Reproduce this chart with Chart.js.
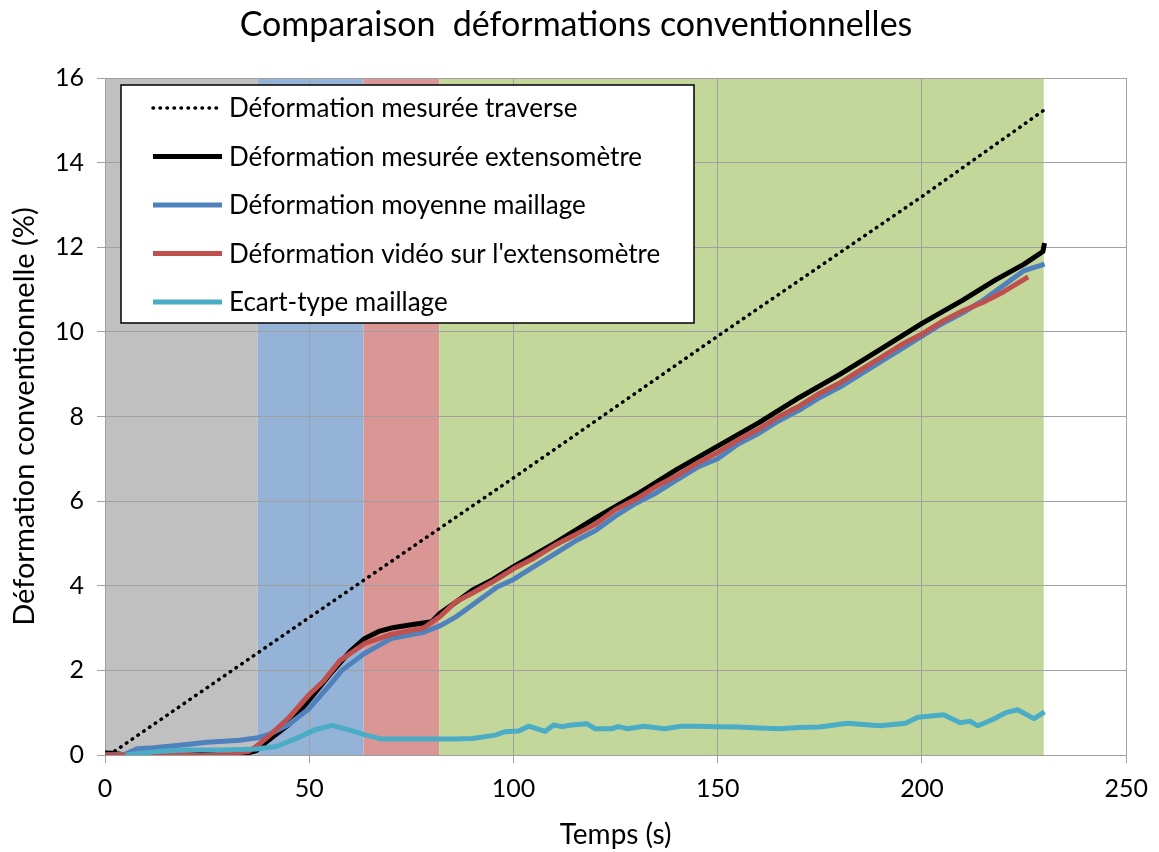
<!DOCTYPE html>
<html>
<head>
<meta charset="utf-8">
<script src="https://cdn.jsdelivr.net/npm/chart.js@4"></script>
<style>
  html, body { margin: 0; padding: 0; background: #fff; }
  #wrap { width: 1159px; height: 852px; position: relative; }
</style>
</head>
<body>
<div id="wrap"><canvas id="chart"></canvas></div>
<script>
// Comparaison des déformations conventionnelles

var titleText = 'Comparaison  déformations conventionnelles';

// zones de fond (temps en s)
var bandEdges = [0, 37.4, 63.3, 81.8, 229.8];
var bandColors = ['#c0c0c0', '#95b3d7', '#da9694', '#c4d79b'];

// Déformation mesurée traverse
var tTraverse = [1, 50, 100, 150, 200, 230];
var vTraverse = [0, 3.25, 6.55, 9.9, 13.2, 15.25];

// Déformation mesurée extensomètre
var tExtenso = [0, 2, 5, 15, 25, 35, 37, 40, 45, 50, 55, 60, 63.5, 67, 70, 75, 80, 82, 86, 90, 95, 100,
                110, 120, 130, 140, 150, 160, 170, 180, 190, 200, 210, 218, 225, 229.6, 230];
var vExtenso = [0.05, 0.04, 0, 0, 0.02, 0.05, 0.1, 0.35, 0.72, 1.3, 1.9, 2.45, 2.75, 2.92, 3.0, 3.08, 3.15, 3.35, 3.62, 3.9, 4.15, 4.45,
                5.0, 5.6, 6.15, 6.75, 7.3, 7.85, 8.45, 9.0, 9.6, 10.2, 10.75, 11.23, 11.6, 11.9, 12.1];

// Déformation moyenne maillage
var tMaillage = [0, 5, 8, 12, 20, 25, 33, 37, 40, 45, 50, 55, 58, 63.5, 70, 78, 82, 86, 90, 96, 100,
                 105, 110, 115, 120, 125, 130, 135, 140, 145, 150, 155, 160, 165, 170, 175, 180, 185, 190, 195, 200,
                 205, 210, 215, 220, 225, 230];
var vMaillage = [0, 0.02, 0.15, 0.17, 0.25, 0.3, 0.35, 0.4, 0.48, 0.72, 1.1, 1.65, 2.0, 2.4, 2.75, 2.9, 3.05, 3.27, 3.55, 3.97, 4.15,
                 4.45, 4.75, 5.05, 5.3, 5.65, 5.95, 6.2, 6.5, 6.8, 7.0, 7.35, 7.6, 7.9, 8.15, 8.45, 8.7, 9.0, 9.3, 9.6, 9.9,
                 10.2, 10.45, 10.75, 11.1, 11.45, 11.6];

// Déformation vidéo sur l'extensomètre
var tVideo = [0, 5, 10, 17, 23.5, 29, 35, 37, 40, 45, 50, 53.5, 57.5, 63.5, 70, 78, 82, 86, 90, 95, 100,
              105, 110, 115, 120, 125, 130, 135, 140, 145, 150, 155, 160, 165, 170, 175, 180, 185, 190, 195, 200,
              205, 210, 215, 220, 226];
var vVideo = [0, 0, 0.01, 0.04, -0.02, 0.02, 0.08, 0.2, 0.44, 0.88, 1.43, 1.75, 2.23, 2.63, 2.85, 3.0, 3.27, 3.63, 3.83, 4.1, 4.4,
              4.65, 4.95, 5.2, 5.45, 5.8, 6.05, 6.35, 6.6, 6.9, 7.15, 7.45, 7.7, 8.0, 8.25, 8.55, 8.8, 9.1, 9.4, 9.7, 9.95,
              10.25, 10.5, 10.7, 10.95, 11.3];

// Ecart-type maillage
var tEcart = [5, 12.5, 20, 29, 37, 42, 47, 51.5, 55.5, 59.5, 63.5, 67.5, 77, 85.5, 90, 95.5, 98, 101.3, 103.7, 107.8,
              109.8, 111.9, 114.3, 117.9, 120, 124, 125.7, 128, 132, 137, 141, 145, 150, 155, 160, 165, 170, 175,
              181.7, 189.8, 196, 199, 205.3, 209.3, 211.7, 213.7, 217.3, 220.5, 223.4, 227.4, 230];
var vEcart = [0, 0.08, 0.12, 0.12, 0.14, 0.2, 0.4, 0.6, 0.7, 0.6, 0.48, 0.38, 0.38, 0.38, 0.39, 0.47, 0.55, 0.57, 0.68, 0.56,
              0.71, 0.67, 0.71, 0.74, 0.62, 0.62, 0.67, 0.62, 0.68, 0.62, 0.68, 0.68, 0.67, 0.66, 0.64, 0.62, 0.65, 0.66,
              0.75, 0.69, 0.75, 0.89, 0.95, 0.76, 0.8, 0.69, 0.84, 1.0, 1.07, 0.86, 1.02];

var xTicks = [0, 50, 100, 150, 200, 250];
var yTicks = [0, 2, 4, 6, 8, 10, 12, 14, 16];

var FONT = 'Lato, "Open Sans", sans-serif';

function toPoints(ts, vs) {
    var pts = [];
    for (var i = 0; i < ts.length; i++) {
        pts.push({ x: ts[i], y: vs[i] });
    }
    return pts;
}

// fonds colorés derrière la grille
var bandsPlugin = {
    id: 'bands',
    beforeDraw: function(chart) {
        var ctx = chart.ctx;
        var xs = chart.scales.x;
        var area = chart.chartArea;
        ctx.save();
        for (var i = 0; i < bandColors.length; i++) {
            var x0 = xs.getPixelForValue(bandEdges[i]);
            var x1 = xs.getPixelForValue(bandEdges[i + 1]);
            ctx.fillStyle = bandColors[i];
            ctx.fillRect(x0, area.top, x1 - x0, area.bottom - area.top);
        }
        ctx.restore();
    }
};

// titre + légende encadrée
var boxPlugin = {
    id: 'boxLegend',
    afterDatasetsDraw: function(chart) {
        var ctx = chart.ctx;
        ctx.save();
        ctx.fillStyle = '#000';
        ctx.font = '34px ' + FONT;
        ctx.textAlign = 'center';
        ctx.textBaseline = 'alphabetic';
        ctx.fillText(titleText, 576, 36);

        var bx = 121, by = 85, bw = 573, bh = 238;
        ctx.fillStyle = '#fff';
        ctx.fillRect(bx, by, bw, bh);
        ctx.strokeStyle = '#000';
        ctx.lineWidth = 1.5;
        ctx.strokeRect(bx, by, bw, bh);

        ctx.font = '26px ' + FONT;
        ctx.textAlign = 'left';
        ctx.textBaseline = 'middle';
        var ds = chart.data.datasets;
        for (var i = 0; i < ds.length; i++) {
            var y = 108 + i * 48.5;
            ctx.beginPath();
            ctx.strokeStyle = ds[i].borderColor;
            ctx.lineWidth = ds[i].borderWidth;
            ctx.lineCap = ds[i].borderCapStyle || 'butt';
            ctx.setLineDash(ds[i].borderDash || []);
            ctx.moveTo(153, y);
            ctx.lineTo(222, y);
            ctx.stroke();
            ctx.setLineDash([]);
            ctx.fillStyle = '#000';
            ctx.fillText(ds[i].label, 229, y + 1);
        }
        ctx.restore();
    }
};

function initChart() {
    var canvas = document.getElementById('chart');
    var ctx = canvas.getContext('2d');

    new Chart(ctx, {
        type: 'line',
        data: {
            datasets: [{
                label: 'Déformation mesurée traverse',
                data: toPoints(tTraverse, vTraverse),
                borderColor: '#000',
                borderWidth: 3.5,
                borderDash: [0.5, 6.5],
                borderCapStyle: 'round',
                order: 4
            }, {
                label: 'Déformation mesurée extensomètre',
                data: toPoints(tExtenso, vExtenso),
                borderColor: '#000',
                borderWidth: 5,
                order: 3
            }, {
                label: 'Déformation moyenne maillage',
                data: toPoints(tMaillage, vMaillage),
                borderColor: '#4f81bd',
                borderWidth: 5,
                order: 2
            }, {
                label: "Déformation vidéo sur l'extensomètre",
                data: toPoints(tVideo, vVideo),
                borderColor: '#c0504d',
                borderWidth: 5,
                order: 1
            }, {
                label: 'Ecart-type maillage',
                data: toPoints(tEcart, vEcart),
                borderColor: '#4bacc6',
                borderWidth: 5,
                order: 0
            }]
        },
        options: {
            responsive: false,
            animation: false,
            elements: {
                point: { radius: 0 },
                line: { tension: 0, borderJoinStyle: 'round', fill: false }
            },
            layout: { padding: { top: 78, right: 26, left: 0, bottom: 0 } },
            plugins: {
                legend: { display: false },
                title: { display: false },
                tooltip: { enabled: false }
            },
            scales: {
                x: {
                    type: 'linear',
                    min: 0,
                    max: 250,
                    afterFit: function(s) { s.height = 97; },
                    afterBuildTicks: function(s) {
                        s.ticks = xTicks.map(function(v) { return { value: v }; });
                    },
                    grid: { color: '#a0a0a0', lineWidth: 1, tickLength: 8 },
                    border: { color: '#a0a0a0' },
                    ticks: { color: '#000', padding: 11, font: { family: FONT, size: 25 } },
                    title: {
                        display: true,
                        text: 'Temps (s)',
                        color: '#000',
                        font: { family: FONT, size: 28 },
                        padding: { top: 4, bottom: 0 }
                    }
                },
                y: {
                    type: 'linear',
                    min: 0,
                    max: 16,
                    afterFit: function(s) { s.width = 105; },
                    afterBuildTicks: function(s) {
                        s.ticks = yTicks.map(function(v) { return { value: v }; });
                    },
                    grid: { color: '#a0a0a0', lineWidth: 1, tickLength: 8 },
                    border: { color: '#a0a0a0' },
                    ticks: { color: '#000', padding: 13, font: { family: FONT, size: 25 } },
                    title: {
                        display: true,
                        text: 'Déformation conventionnelle (%)',
                        color: '#000',
                        font: { family: FONT, size: 29 },
                        padding: { top: 7, bottom: 4 }
                    }
                }
            }
        },
        plugins: [bandsPlugin, boxPlugin]
    });
}

var cv = document.getElementById('chart');
cv.width = 1159;
cv.height = 852;

if (document.readyState === 'loading') {
    document.addEventListener('DOMContentLoaded', initChart);
} else {
    initChart();
}
</script>
</body>
</html>
